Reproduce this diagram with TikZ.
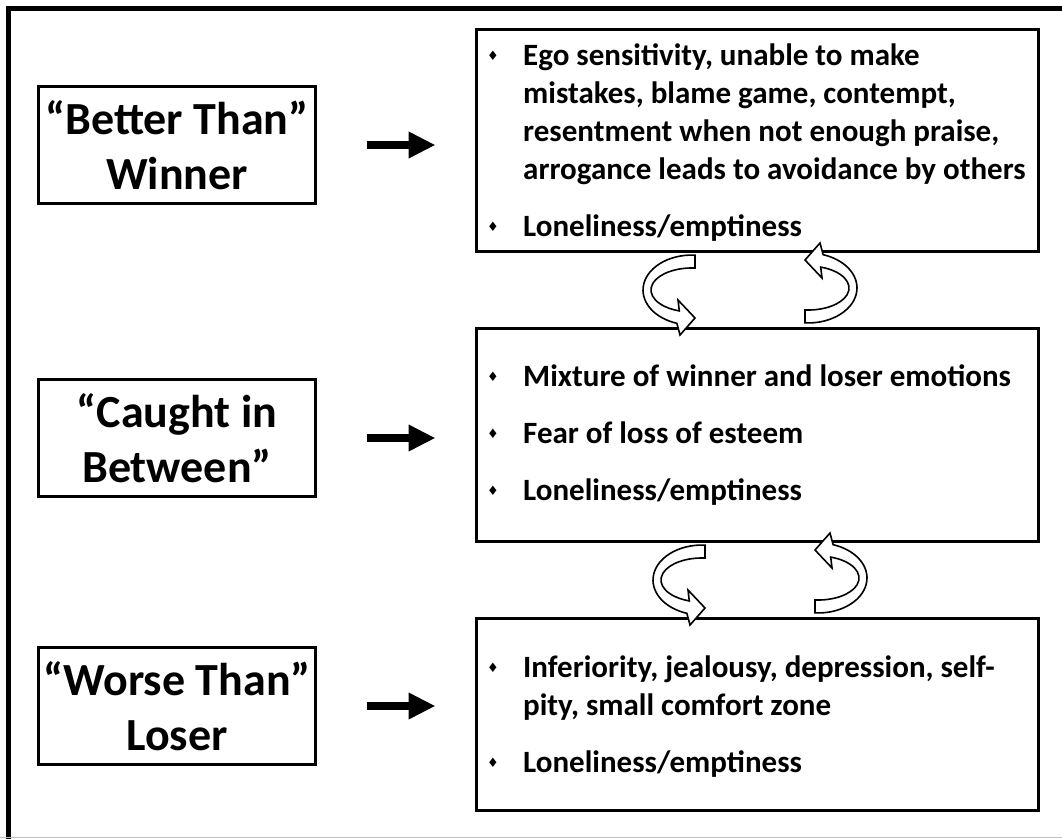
\documentclass[tikz,border=0pt]{standalone}
\usepackage{fontspec}
\setmainfont{Carlito}
\newfontfamily\symfont{DejaVu Sans}
\usetikzlibrary{arrows.meta}

\tikzset{
  boxline/.style={draw=black, line width=3pt, fill=white, inner sep=0pt},
  levelbox/.style={boxline, minimum width=277pt, minimum height=117pt,
    align=center, font=\bfseries\fontsize{46}{55}\selectfont},
  notebox/.style={boxline, minimum width=562pt},
  noteline/.style={anchor=base west, inner sep=0pt,
    font=\bfseries\fontsize{31}{38}\selectfont},
  bulletmark/.style={anchor=center, inner sep=0pt,
    font=\symfont\fontsize{13}{13}\selectfont},
  bigarrow/.style={line width=8pt, -{Triangle[length=27pt,width=25pt]},
    shorten <=49.5pt, shorten >=39.5pt},
  ribbonline/.style={draw=black, line width=1.6pt, fill=white, line join=miter},
  frameline/.style={line width=5pt, line cap=rect},
  ribbon/.pic={
    \path[ribbonline]
      (3,34.9) arc[start angle=86.5, end angle=252, x radius=49pt, y radius=35pt]
      -- (-12,-45) -- (3,-28) -- (-14,-10) -- (-12.7,-20.9)
      arc[start angle=252, end angle=85.8, x radius=41pt, y radius=22pt]
      -- cycle;
  }
}

\begin{document}
\begin{tikzpicture}[x=1pt, y=1pt]
\useasboundingbox (0,0) rectangle (1062,-838);

% outer frame
\draw[frameline] (8.5,-845) -- (8.5,-8.5) -- (1070,-8.5);
\draw[black!25, line width=1pt] (0,-837.5) -- (1062,-837.5);

% level boxes on the left
\node[levelbox] (l1) at (177,-145) {“Better Than”\\Winner};
\node[levelbox] (l2) at (177,-438) {“Caught in\\Between”};
\node[levelbox] (l3) at (177,-706) {“Worse Than”\\Loser};

% description boxes on the right
\node[notebox, minimum height=222pt] (r1) at (757.5,-140.5) {};
\node[notebox, minimum height=213pt] (r2) at (757.5,-435) {};
\node[notebox, minimum height=192pt] (r3) at (757.5,-714.5) {};

% arrows from level to description
\draw[bigarrow] (l1.east) -- (l1.east -| r1.west);
\draw[bigarrow] (l2.east) -- (l2.east -| r2.west);
\draw[bigarrow] (l3.east) -- (l3.east -| r3.west);

% box 1 text
\node[bulletmark] (b1a) at (493,-56) {\char"2666};
\node[noteline] (t1a) at (523,-65) {Ego sensitivity, unable to make};
\node[noteline] (t1b) at (523,-103) {mistakes, blame game, contempt,};
\node[noteline] (t1c) at (523,-141) {resentment when not enough praise,};
\node[noteline] (t1d) at (523,-179) {arrogance leads to avoidance by others};
\node[bulletmark] (b1b) at (493,-227) {\char"2666};
\node[noteline] (t1e) at (523,-236) {Loneliness/emptiness};

% box 2 text
\node[bulletmark] (b2a) at (493,-377) {\char"2666};
\node[noteline] (t2a) at (523,-386) {Mixture of winner and loser emotions};
\node[bulletmark] (b2b) at (493,-434) {\char"2666};
\node[noteline] (t2b) at (523,-443) {Fear of loss of esteem};
\node[bulletmark] (b2c) at (493,-491) {\char"2666};
\node[noteline] (t2c) at (523,-500) {Loneliness/emptiness};

% box 3 text
\node[bulletmark] (b3a) at (493,-668) {\char"2666};
\node[noteline] (t3a) at (523,-677) {Inferiority, jealousy, depression, self-};
\node[noteline] (t3b) at (523,-715) {pity, small comfort zone};
\node[bulletmark] (b3b) at (493,-763) {\char"2666};
\node[noteline] (t3c) at (523,-772) {Loneliness/emptiness};

% cycling arrows between the description boxes
\pic at (692,-290) {ribbon};
\pic[rotate=180] at (808,-288) {ribbon};
\pic at (702,-580) {ribbon};
\pic[rotate=180] at (818,-578) {ribbon};
\end{tikzpicture}
\end{document}
